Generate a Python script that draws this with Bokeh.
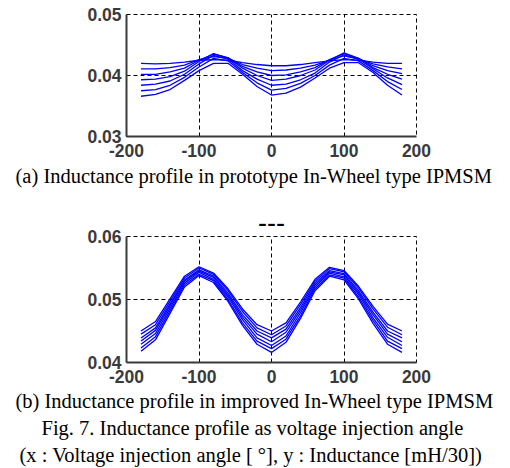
from bokeh.plotting import figure
from bokeh.models import Range1d, FixedTicker, Title
from bokeh.layouts import column
from bokeh.embed import file_html
from bokeh.resources import INLINE

# ---------------- data ----------------
ANGLE = [-180, -160, -140, -120, -100, -80, -60, -40, -20, 0,
         20, 40, 60, 80, 100, 120, 140, 160, 180]

# (a) prototype In-Wheel IPMSM  (inductance, mH/30)
A0 = [.0420, .0419, .0420, .0422, .0425, .0426, .0425, .0421, .0418, .0416, .0416, .0418, .0421, .0424, .0426, .0425, .0422, .0420, .0420]
A1 = [.0411, .0411, .0413, .0417, .0426, .0431, .0428, .0418, .0412, .0408, .0409, .0412, .0417, .0425, .0432, .0427, .0419, .0414, .0411]
A2 = [.0402, .0402, .0406, .0412, .0425, .0435, .0429, .0415, .0406, .0400, .0401, .0406, .0413, .0426, .0436, .0428, .0416, .0408, .0403]
A3 = [.0393, .0394, .0398, .0407, .0423, .0436, .0429, .0412, .0400, .0392, .0394, .0400, .0409, .0425, .0437, .0428, .0413, .0402, .0394]
A4 = [.0384, .0386, .0391, .0402, .0419, .0433, .0427, .0408, .0394, .0384, .0386, .0393, .0404, .0422, .0434, .0427, .0411, .0396, .0385]
A5 = [.0375, .0377, .0384, .0397, .0414, .0428, .0424, .0405, .0388, .0376, .0379, .0387, .0400, .0417, .0428, .0424, .0408, .0390, .0377]
A6 = [.0366, .0369, .0377, .0392, .0408, .0420, .0420, .0402, .0382, .0368, .0371, .0381, .0396, .0412, .0421, .0421, .0405, .0384, .0368]

# (b) improved In-Wheel IPMSM
B0 = [.0450, .0465, .0501, .0537, .0552, .0542, .0517, .0485, .0460, .0450, .0463, .0496, .0532, .0551, .0546, .0521, .0489, .0461, .0450]
B1 = [.0445, .0460, .0497, .0534, .0550, .0540, .0514, .0481, .0455, .0444, .0458, .0492, .0529, .0549, .0544, .0518, .0485, .0456, .0444]
B2 = [.0439, .0455, .0493, .0531, .0547, .0537, .0510, .0476, .0450, .0439, .0453, .0487, .0526, .0546, .0541, .0514, .0480, .0450, .0439]
B3 = [.0434, .0451, .0490, .0529, .0545, .0535, .0507, .0472, .0445, .0433, .0448, .0483, .0523, .0544, .0539, .0511, .0476, .0445, .0433]
B4 = [.0429, .0446, .0486, .0526, .0543, .0532, .0504, .0468, .0439, .0427, .0442, .0479, .0520, .0542, .0536, .0508, .0471, .0440, .0427]
B5 = [.0423, .0441, .0482, .0523, .0540, .0530, .0500, .0463, .0434, .0422, .0437, .0474, .0517, .0539, .0534, .0504, .0467, .0434, .0422]
B6 = [.0418, .0436, .0478, .0520, .0538, .0527, .0497, .0459, .0429, .0416, .0432, .0470, .0514, .0537, .0531, .0501, .0462, .0429, .0416]

X_TICKS = [-200, -100, 0, 100, 200]
X_LABELS = ["-200", "-100", "0", "100", "200"]
YA_TICKS = [0.03, 0.04, 0.05]
YA_LABELS = ["0.03", "0.04", "0.05"]
YB_TICKS = [0.04, 0.05, 0.06]
YB_LABELS = ["0.04", "0.05", "0.06"]

CAP_A = "(a) Inductance profile in prototype In-Wheel type IPMSM"
CAP_B = "(b) Inductance profile in improved In-Wheel type IPMSM"
CAP_FIG = "Fig. 7. Inductance profile as voltage injection angle"
CAP_XY = "(x : Voltage injection angle [ \u00b0], y : Inductance [mH/30])"
TITLE_B = "---"

SERIF = "Liberation Serif"
SANS = "Liberation Sans"
CAP_SIZE = "20.5px"
W = 510
FRAME_LEFT = 126


def make_fig(height, top, bottom, yticks, ylabels, yrange):
    p = figure(width=W, height=height, output_backend="svg", toolbar_location=None,
               x_range=Range1d(-200, 200), y_range=Range1d(*yrange),
               min_border_left=FRAME_LEFT, min_border_right=94,
               min_border_top=top, min_border_bottom=bottom)
    p.background_fill_color = "white"
    p.border_fill_color = "white"
    p.outline_line_color = "black"
    p.outline_line_dash = "4 3"
    p.outline_line_width = 1
    p.xaxis.ticker = FixedTicker(ticks=X_TICKS)
    p.xaxis.major_label_overrides = {t: l for t, l in zip(X_TICKS, X_LABELS)}
    p.yaxis.ticker = FixedTicker(ticks=yticks)
    p.yaxis.major_label_overrides = {t: l for t, l in zip(yticks, ylabels)}
    for ax in (p.xaxis[0], p.yaxis[0]):
        ax.axis_line_color = "#3a3a3a"
        ax.axis_line_width = 2
        ax.major_tick_in = 0
        ax.major_tick_out = 0
        ax.minor_tick_line_color = None
        ax.major_label_text_font = SANS
        ax.major_label_text_font_size = "17.5px"
        ax.major_label_text_font_style = "bold"
        ax.major_label_text_color = "#3a3a3a"
    p.xaxis.major_label_standoff = 7
    p.yaxis.major_label_standoff = 5
    p.xgrid.ticker = FixedTicker(ticks=X_TICKS)
    p.ygrid.ticker = FixedTicker(ticks=yticks)
    for g in (p.xgrid[0], p.ygrid[0]):
        g.grid_line_color = "black"
        g.grid_line_dash = "4 3"
        g.grid_line_width = 1
    return p


def caption(p, text, left_px, side="below", standoff=0, size=CAP_SIZE, font=SERIF, align="left"):
    t = Title(text=text, align=align, offset=left_px - FRAME_LEFT, text_font=font,
              text_font_size=size, text_font_style="normal", text_color="black",
              standoff=standoff)
    p.add_layout(t, side)


# ---------- (a) ----------
pa = make_fig(196, 14, 60, YA_TICKS, YA_LABELS, (0.03, 0.05))
for ys in (A0, A1, A2, A3, A4, A5, A6):
    pa.line(ANGLE, ys, line_color="#0000ff", line_width=1.3)
caption(pa, CAP_A, 15, standoff=7)

# ---------- (b) ----------
pb = make_fig(272, 40, 106, YB_TICKS, YB_LABELS, (0.04, 0.06))
for ys in (B0, B1, B2, B3, B4, B5, B6):
    pb.line(ANGLE, ys, line_color="#0000ff", line_width=1.3)
caption(pb, TITLE_B, 0, side="above", standoff=10, size="27px", font=SANS, align="center")
caption(pb, CAP_B, 15, standoff=4)
caption(pb, CAP_FIG, 41, standoff=3)
caption(pb, CAP_XY, 19, standoff=3)

layout = column(pa, pb)
open("out.html", "w").write(file_html(layout, INLINE))
